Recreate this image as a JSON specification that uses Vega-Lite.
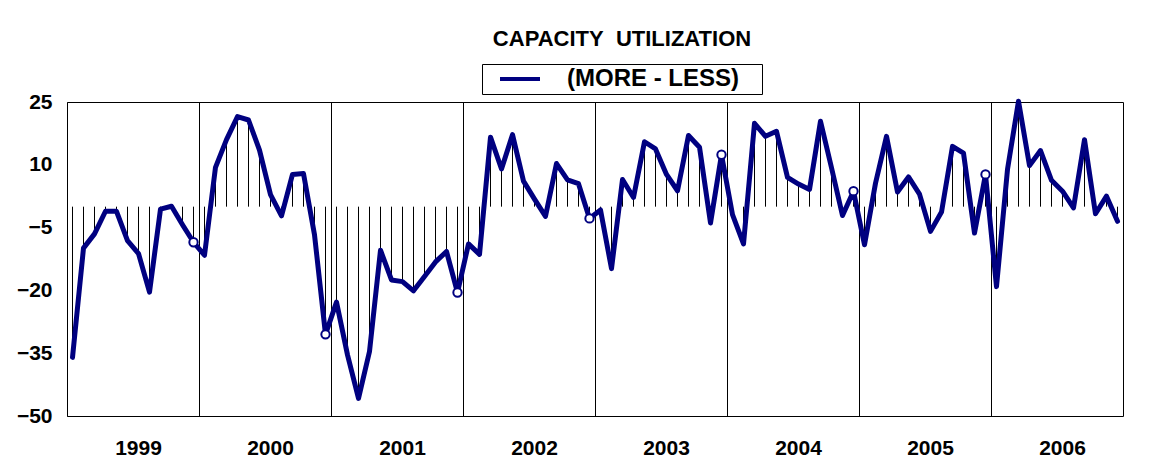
{
  "$schema": "https://vega.github.io/schema/vega-lite/v6.json",
  "autosize": "none",
  "width": 1056,
  "height": 314,
  "padding": {"left": 67, "top": 102, "right": 42, "bottom": 58},
  "background": "white",
  "config": {
    "font": "Liberation Sans",
    "view": {"stroke": "black", "strokeWidth": 1}
  },
  "title": {
    "text": "CAPACITY\u00a0 UTILIZATION",
    "anchor": "middle",
    "dx": 27,
    "fontSize": 22,
    "fontWeight": "bold",
    "color": "black",
    "font": "Liberation Sans",
    "offset": 13
  },
  "data": {
    "values": [
      {"month": "1999-01", "value": -36.0}, {"month": "1999-02", "value": -9.9}, {"month": "1999-03", "value": -6.5}, {"month": "1999-04", "value": -1.1}, {"month": "1999-05", "value": -1.1}, {"month": "1999-06", "value": -8.1}, {"month": "1999-07", "value": -11.2}, {"month": "1999-08", "value": -20.4}, {"month": "1999-09", "value": -0.6}, {"month": "1999-10", "value": 0.1}, {"month": "1999-11", "value": -4.3}, {"month": "1999-12", "value": -8.5},
      {"month": "2000-01", "value": -11.6}, {"month": "2000-02", "value": 9.4}, {"month": "2000-03", "value": 16.0}, {"month": "2000-04", "value": 21.5}, {"month": "2000-05", "value": 20.7}, {"month": "2000-06", "value": 13.5}, {"month": "2000-07", "value": 2.9}, {"month": "2000-08", "value": -2.2}, {"month": "2000-09", "value": 7.7}, {"month": "2000-10", "value": 7.9}, {"month": "2000-11", "value": -6.7}, {"month": "2000-12", "value": -30.5},
      {"month": "2001-01", "value": -22.8}, {"month": "2001-02", "value": -35.4}, {"month": "2001-03", "value": -45.8}, {"month": "2001-04", "value": -34.6}, {"month": "2001-05", "value": -10.4}, {"month": "2001-06", "value": -17.5}, {"month": "2001-07", "value": -17.9}, {"month": "2001-08", "value": -20.1}, {"month": "2001-09", "value": -16.7}, {"month": "2001-10", "value": -13.2}, {"month": "2001-11", "value": -10.7}, {"month": "2001-12", "value": -20.5},
      {"month": "2002-01", "value": -8.9}, {"month": "2002-02", "value": -11.4}, {"month": "2002-03", "value": 16.6}, {"month": "2002-04", "value": 9.0}, {"month": "2002-05", "value": 17.2}, {"month": "2002-06", "value": 6.1}, {"month": "2002-07", "value": 1.8}, {"month": "2002-08", "value": -2.3}, {"month": "2002-09", "value": 10.3}, {"month": "2002-10", "value": 6.4}, {"month": "2002-11", "value": 5.5}, {"month": "2002-12", "value": -2.8},
      {"month": "2003-01", "value": -0.8}, {"month": "2003-02", "value": -14.8}, {"month": "2003-03", "value": 6.5}, {"month": "2003-04", "value": 2.2}, {"month": "2003-05", "value": 15.5}, {"month": "2003-06", "value": 13.8}, {"month": "2003-07", "value": 7.7}, {"month": "2003-08", "value": 3.8}, {"month": "2003-09", "value": 17.0}, {"month": "2003-10", "value": 14.2}, {"month": "2003-11", "value": -3.9}, {"month": "2003-12", "value": 12.4},
      {"month": "2004-01", "value": -1.9}, {"month": "2004-02", "value": -8.9}, {"month": "2004-03", "value": 19.9}, {"month": "2004-04", "value": 16.8}, {"month": "2004-05", "value": 18.0}, {"month": "2004-06", "value": 7.0}, {"month": "2004-07", "value": 5.4}, {"month": "2004-08", "value": 4.1}, {"month": "2004-09", "value": 20.4}, {"month": "2004-10", "value": 9.3}, {"month": "2004-11", "value": -2.1}, {"month": "2004-12", "value": 3.7},
      {"month": "2005-01", "value": -9.1}, {"month": "2005-02", "value": 5.6}, {"month": "2005-03", "value": 16.8}, {"month": "2005-04", "value": 3.5}, {"month": "2005-05", "value": 7.1}, {"month": "2005-06", "value": 3.0}, {"month": "2005-07", "value": -5.9}, {"month": "2005-08", "value": -1.3}, {"month": "2005-09", "value": 14.4}, {"month": "2005-10", "value": 12.8}, {"month": "2005-11", "value": -6.3}, {"month": "2005-12", "value": 7.7},
      {"month": "2006-01", "value": -19.1}, {"month": "2006-02", "value": 8.9}, {"month": "2006-03", "value": 25.2}, {"month": "2006-04", "value": 9.8}, {"month": "2006-05", "value": 13.4}, {"month": "2006-06", "value": 6.3}, {"month": "2006-07", "value": 3.7}, {"month": "2006-08", "value": -0.3}, {"month": "2006-09", "value": 16.0}, {"month": "2006-10", "value": -1.7}, {"month": "2006-11", "value": 2.5}, {"month": "2006-12", "value": -3.5}
    ]
  },
  "encoding": {
    "x": {
      "field": "month",
      "type": "ordinal",
      "scale": {"type": "band", "paddingInner": 0, "paddingOuter": 0},
      "axis": {
        "title": null,
        "domain": false,
        "ticks": false,
        "bandPosition": 0,
        "labelAngle": 0,
        "labelExpr": "substring(datum.value,5)=='07' ? substring(datum.value,0,4) : ''",
        "labelFontSize": 21,
        "labelFontWeight": "bold",
        "labelColor": "black",
        "labelPadding": 21,
        "labelAlign": "center",
        "grid": true,
        "gridColor": "black",
        "gridWidth": 1,
        "gridOpacity": {"condition": {"test": "substring(datum.value,5)=='01'", "value": 1}, "value": 0}
      }
    }
  },
  "layer": [
    {
      "mark": {"type": "rule", "color": "black", "strokeWidth": 1},
      "encoding": {"y": {"datum": 0, "type": "quantitative"}}
    },
    {
      "mark": {"type": "rule", "color": "black", "strokeWidth": 1},
      "encoding": {
        "y": {"field": "value", "type": "quantitative"},
        "y2": {"datum": 0}
      }
    },
    {
      "mark": {"type": "line", "strokeWidth": 5, "strokeJoin": "round", "strokeCap": "round"},
      "encoding": {
        "y": {
          "field": "value",
          "type": "quantitative",
          "scale": {"domain": [-50, 25], "nice": false, "zero": false},
          "axis": {
            "title": null,
            "values": [-50, -35, -20, -5, 10, 25],
            "grid": false,
            "ticks": false,
            "domain": false,
            "labelFontSize": 21,
            "labelFontWeight": "bold",
            "labelColor": "black",
            "labelPadding": 15
          }
        },
        "color": {
          "datum": "(MORE - LESS)",
          "scale": {"range": ["#000080"]},
          "legend": {
            "title": null,
            "orient": "none",
            "legendX": 415,
            "legendY": -38,
            "strokeColor": "black",
            "fillColor": "white",
            "padding": 3,
            "clipHeight": 24,
            "symbolType": "stroke",
            "symbolSize": 1600,
            "symbolStrokeWidth": 4,
            "symbolOffset": 13,
            "labelOffset": 25,
            "labelLimit": 300,
            "labelExpr": "datum.label + '\u00a0\u00a0\u00a0\u200b'",
            "labelFont": "Liberation Sans",
            "labelFontSize": 24,
            "labelFontWeight": "bold",
            "labelColor": "black"
          }
        }
      }
    },
    {
      "transform": [{"filter": "substring(datum.month,5)=='12' && datum.month != '2006-12'"}],
      "mark": {"type": "point", "filled": true, "fill": "white", "stroke": "#000080", "strokeWidth": 2, "size": 70, "opacity": 1},
      "encoding": {"y": {"field": "value", "type": "quantitative"}}
    }
  ]
}
